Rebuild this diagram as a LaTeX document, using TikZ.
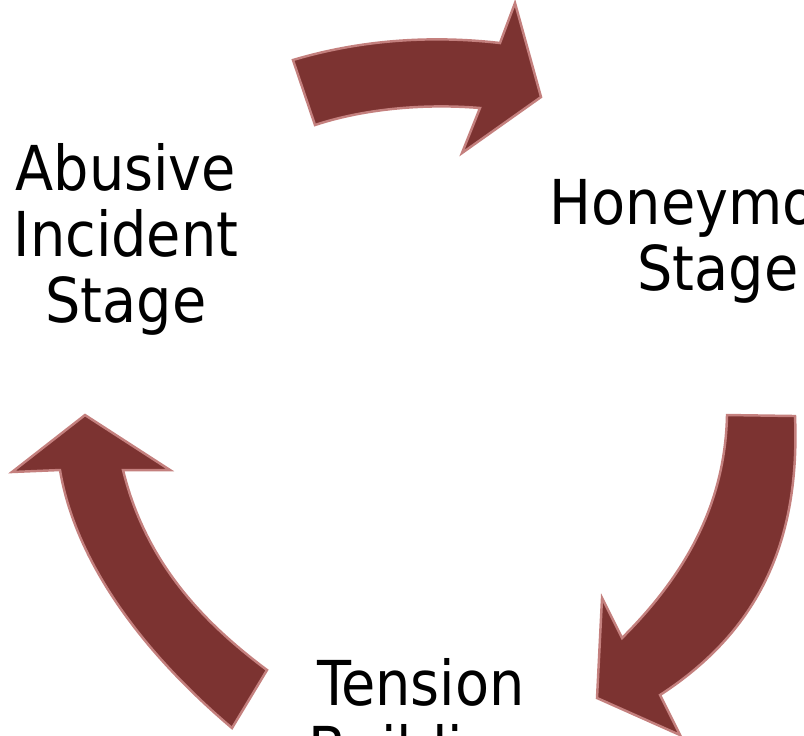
\documentclass[tikz,border=0pt]{standalone}
\usepackage{fontspec}
\setmainfont{DejaVu Sans Condensed}
\usepackage{tikz}
\definecolor{arrowred}{RGB}{124,51,49}
\definecolor{arrowpink}{RGB}{196,128,126}
\tikzset{
  cyclearrow/.style={fill=arrowred, draw=arrowpink, line width=0.7pt, line join=miter},
  stagelabel/.style={anchor=north, inner sep=0pt, align=center,
    font=\fontsize{17.6}{18.8}\selectfont},
}

\begin{document}
\begin{tikzpicture}[x=0.01cm, y=-0.01cm]
			%%%%% START %%%%%
			\useasboundingbox (0, 0) rectangle (804, 735);
			\clip (0, 0) rectangle (804, 735);
			
			% abusive -> honeymoon
			\draw[cyclearrow] (293, 60) .. controls (360, 40) and (430, 35) .. (500, 43)
				-- (515, 3) -- (541, 97) -- (462, 153) -- (480, 108)
				.. controls (420, 103) and (360, 110) .. (315, 125) -- cycle;
			
			% honeymoon -> tension
			\draw[cyclearrow] (727, 415) -- (795, 416)
				.. controls (800, 540) and (760, 630) .. (660, 695)
				-- (680, 735) -- (597, 698) -- (602, 598) -- (622, 638)
				.. controls (680, 580) and (725, 510) .. cycle;
			
			% tension -> abusive
			\draw[cyclearrow] (267, 670) .. controls (200, 620) and (145, 560) .. (123, 470)
				-- (170, 470) -- (85, 415) -- (12, 472) -- (60, 470)
				.. controls (75, 560) and (140, 650) .. (232, 728) -- cycle;
			
			\node[stagelabel] (abuse) at (126, 143) {Abusive\\Incident\\Stage};
			\node[stagelabel] (honeymoon) at (718, 179) {Honeymoon\\Stage};
			\node[stagelabel] (tension) at (421, 658) {Tension\\Building};
			%%%%% END %%%%%
\end{tikzpicture}
\end{document}
